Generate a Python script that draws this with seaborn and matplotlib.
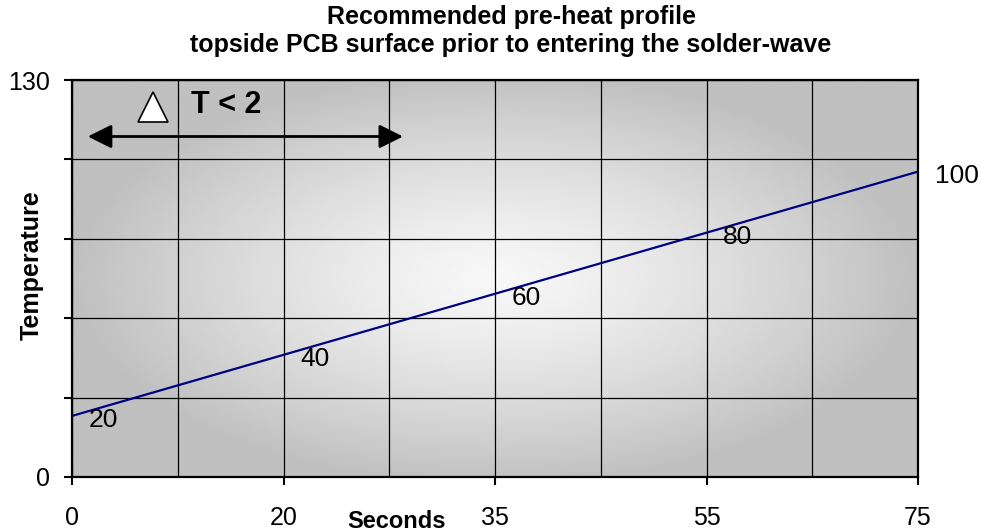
import matplotlib

matplotlib.use("Agg")
import matplotlib.pyplot as plt
import numpy as np
import seaborn as sns

# chart data
seconds_labels = ["0", "20", "35", "55", "75"]
temperature = [20, 40, 60, 80, 100]
y_ticks = [0, 26, 52, 78, 104, 130]
y_tick_labels = ["0", "", "", "", "", "130"]
title = "Recommended pre-heat profile\ntopside PCB surface prior to entering the solder-wave"

STEPS_PER_LABEL = 2  # category axis: a gridline between each labelled point
N_CATS = (len(seconds_labels) - 1) * STEPS_PER_LABEL

sns.set_style("white")
plt.rcParams["font.family"] = ["Liberation Sans", "DejaVu Sans"]
plt.rcParams["text.color"] = "black"
plt.rcParams["xtick.color"] = "black"
plt.rcParams["ytick.color"] = "black"
plt.rcParams["axes.labelcolor"] = "black"

fig = plt.figure(figsize=(9.81, 5.31), dpi=100)
ax = fig.add_axes([72 / 981, 1 - 477 / 531, 846 / 981, 397 / 531])

# radial grey gradient behind the plot area
gx, gy = np.meshgrid(np.linspace(-1, 1, 400), np.linspace(-1, 1, 220))
r = np.clip(np.sqrt((gx / 1.0) ** 2 + (gy / 1.05) ** 2), 0, 1)
shade = 0.97 - 0.22 * r ** 1.3
ax.imshow(shade, extent=(0, N_CATS, 0, 130), aspect="auto", cmap="gray",
          vmin=0, vmax=1, zorder=0, interpolation="bilinear")

x_pos = np.arange(len(seconds_labels)) * STEPS_PER_LABEL
sns.lineplot(x=x_pos, y=temperature, ax=ax, color="#000080", lw=1.6, zorder=3)

for xp, t in zip(x_pos, temperature):
    ax.annotate(str(t), (xp, t), xytext=(12, -3), textcoords="offset points",
                ha="left", va="center", fontsize=19, color="black",
                annotation_clip=False, zorder=4)

ax.set_xlim(0, N_CATS)
ax.set_ylim(0, 130)
ax.set_xticks(x_pos)
ax.set_xticklabels(seconds_labels, fontsize=18)
ax.set_xticks(np.arange(N_CATS + 1), minor=True)
ax.set_yticks(y_ticks)
ax.set_yticklabels(y_tick_labels, fontsize=18)
ax.tick_params(axis="x", which="major", direction="out", length=6, width=1.5, pad=15, bottom=True)
ax.tick_params(axis="x", which="minor", length=0)
ax.tick_params(axis="y", which="major", direction="out", length=6, width=1.5, pad=10, left=True)

ax.grid(True, which="both", axis="x", color="black", lw=0.9)
ax.grid(True, which="major", axis="y", color="black", lw=0.9)
ax.set_axisbelow("line")
for s in ax.spines.values():
    s.set_visible(True)
    s.set_color("black")
    s.set_linewidth(1.6)
    s.set_zorder(5)

# delta T annotation
ax.annotate("", xy=(0.15, 111.5), xytext=(3.13, 111.5),
            arrowprops=dict(arrowstyle="<|-|>", color="black", lw=2,
                            mutation_scale=36, shrinkA=0, shrinkB=0), zorder=6)
ax.plot([0.77], [121.2], marker="^", markersize=21, markerfacecolor="white",
        markeredgecolor="black", markeredgewidth=1.2, zorder=6)
ax.text(1.13, 119.2, "T < 2", fontsize=22, fontweight="bold", ha="left", va="baseline", zorder=6)

ax.set_xlabel("")
ax.set_ylabel("")
ax.text(0.383, -0.128, "Seconds", transform=ax.transAxes, fontsize=17,
        fontweight="bold", ha="center", va="baseline")
ax.text(-0.047, 0.534, "Temperature", transform=ax.transAxes, fontsize=18,
        fontweight="bold", ha="center", va="center", rotation=90)
fig.text(0.521, 1 - 31 / 531, title, fontsize=18, fontweight="bold",
         ha="center", va="center", linespacing=1.22)

fig.savefig("out.png", dpi=100)
